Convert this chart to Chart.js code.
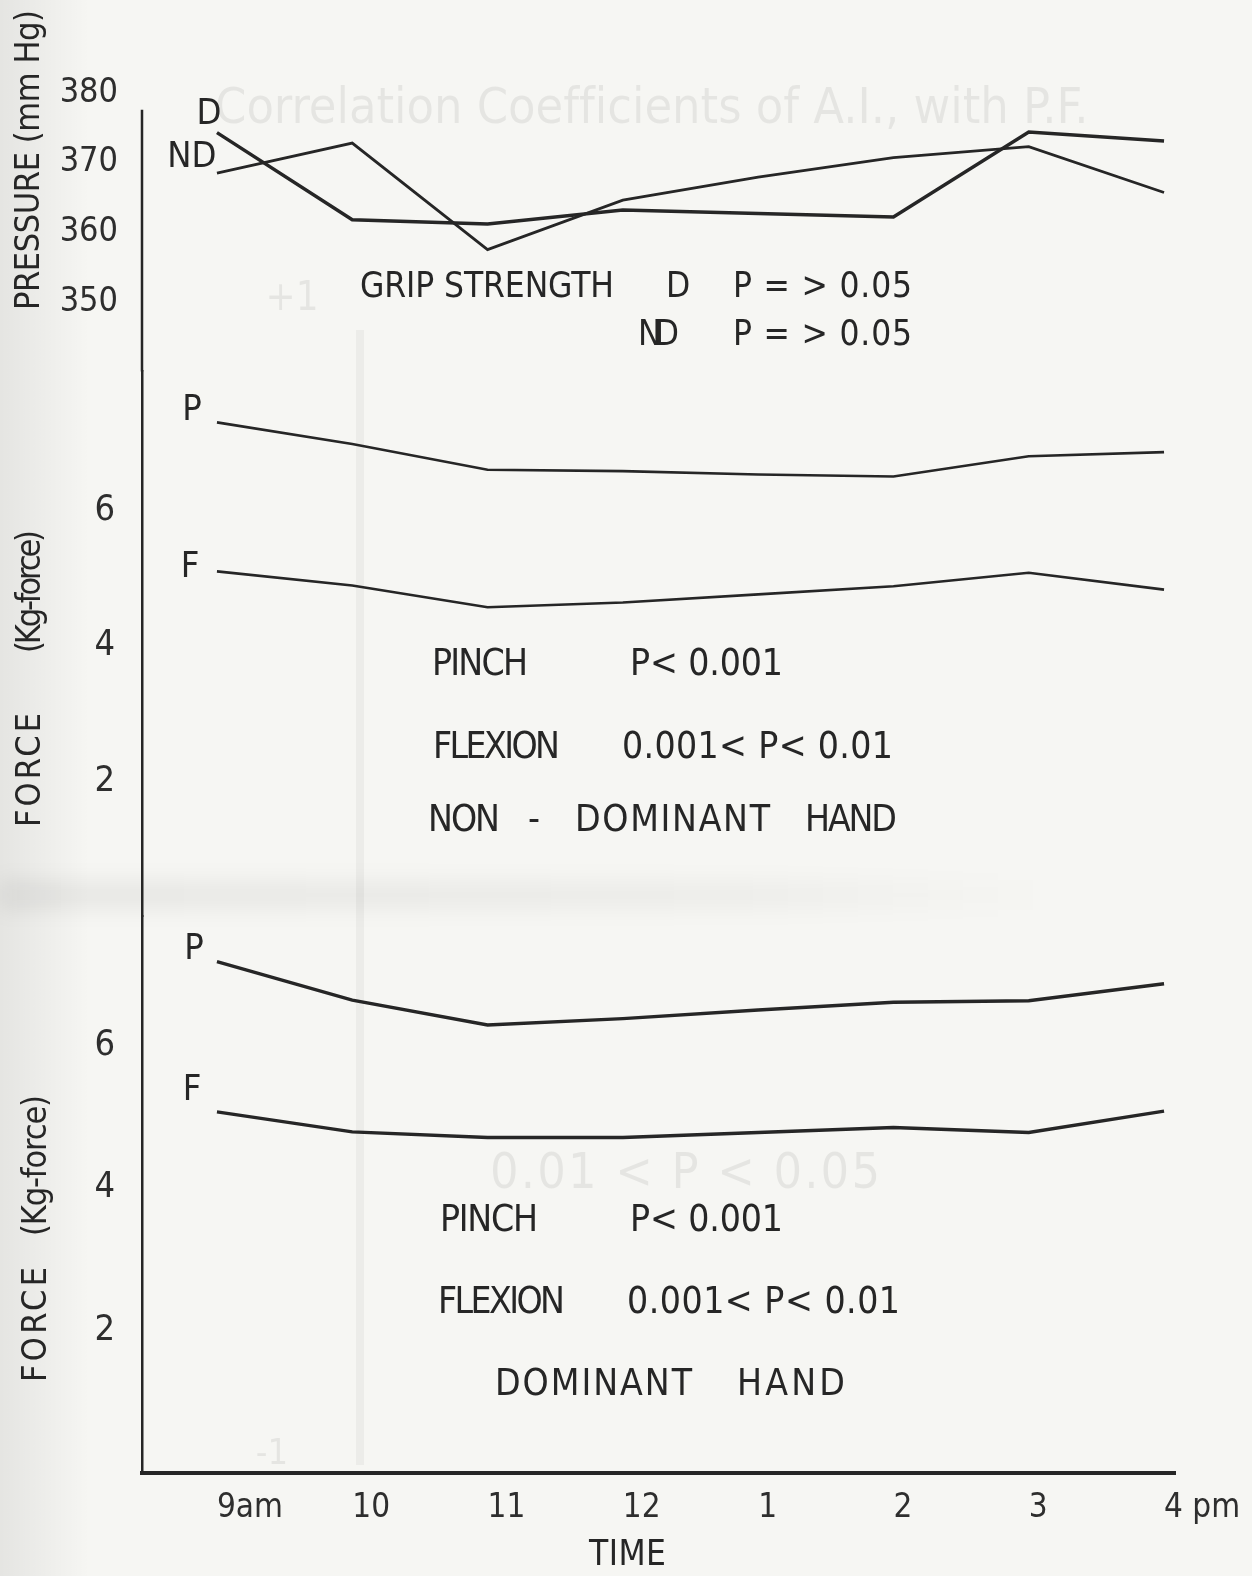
<!DOCTYPE html>
<html lang="en">
<head>
<meta charset="UTF-8" />
<title>Grip, pinch and flexion strength through the day</title>
<script src="https://cdn.jsdelivr.net/npm/chart.js"></script>
<style>
  html, body { margin: 0; padding: 0; background: #f6f6f3; }
  #wrap { width: 1252px; height: 1576px; position: relative; }
</style>
</head>
<body>
<div id="wrap"><canvas id="strengthChart"></canvas></div>
<script>
// time of day
const times = ['9am', '10', '11', '12', '1', '2', '3', '4 pm'];

// grip strength, pressure (mm Hg)
const gripD  = [374.3, 361.8, 361.2, 363.2, 362.7, 362.2, 374.4, 373.1];
const gripND = [368.5, 372.8, 357.5, 364.6, 367.9, 370.7, 372.3, 365.7];

// non-dominant hand, force (Kg-force)
const ndPinch   = [7.30, 6.98, 6.60, 6.58, 6.53, 6.50, 6.80, 6.86];
const ndFlexion = [5.10, 4.89, 4.57, 4.64, 4.76, 4.88, 5.08, 4.83];

// dominant hand, force (Kg-force)
const dPinch   = [7.18, 6.64, 6.29, 6.38, 6.50, 6.61, 6.63, 6.87];
const dFlexion = [5.07, 4.79, 4.71, 4.71, 4.78, 4.85, 4.78, 5.08];

const pressureTicks = [350, 360, 370, 380];
const forceTicks = [2, 4, 6];

const FONT = "'DejaVu Sans Condensed', 'DejaVu Sans', sans-serif";
const INK = '#262626';
Chart.defaults.font.family = FONT;
Chart.defaults.color = INK;

const pts = arr => arr.map((v, i) => ({ x: i, y: v }));

// stretch a string between two x positions
function fitText(ctx, text, x1, x2, y, size) {
  ctx.font = size + 'px ' + FONT;
  ctx.letterSpacing = '0px';
  const w = ctx.measureText(text).width;
  if (text.length > 1) ctx.letterSpacing = ((x2 - x1 - w) / (text.length - 1)) + 'px';
  ctx.textAlign = 'left';
  ctx.textBaseline = 'middle';
  ctx.fillText(text, x1, y);
  ctx.letterSpacing = '0px';
}

function centerText(ctx, text, x, y, size) {
  ctx.font = size + 'px ' + FONT;
  ctx.textAlign = 'center';
  ctx.textBaseline = 'middle';
  ctx.fillText(text, x, y);
}

// [text, left, right, y, size]
const notes = [
  ['GRIP STRENGTH', 360, 614, 288, 35],
  ['D', 666, 685, 288, 35],
  ['P = > 0.05', 733, 912, 288, 35],
  ['ND', 638, 679, 336, 35],
  ['P = > 0.05', 733, 912, 336, 35],

  ['PINCH', 432, 528, 665, 37],
  ['P< 0.001', 630, 783, 665, 37],
  ['FLEXION', 433, 560, 748, 37],
  ['0.001< P< 0.01', 622, 893, 748, 37],
  ['NON', 428, 500, 821, 37],
  ['-', 528, 540, 821, 37],
  ['DOMINANT', 575, 770, 821, 37],
  ['HAND', 805, 897, 821, 37],

  ['PINCH', 440, 538, 1221, 37],
  ['P< 0.001', 630, 783, 1221, 37],
  ['FLEXION', 438, 565, 1303, 37],
  ['0.001< P< 0.01', 627, 900, 1303, 37],
  ['DOMINANT', 495, 692, 1385, 37],
  ['HAND', 737, 845, 1385, 37],

  ['TIME', 589, 666, 1556, 35]
];

// series names next to the first point: [text, datasetIndex, dx, dy]
const seriesTags = [
  ['D', 0, -8, -18],
  ['ND', 1, -25, -15],
  ['P', 2, -25, -12],
  ['F', 3, -27, -4],
  ['P', 4, -23, -12],
  ['F', 5, -25, -21]
];

// rotated axis titles: [text, x, yBottom, yTop]
const yTitles = [
  ['PRESSURE (mm Hg)', 30, 310, 10],
  ['(Kg-force)', 31, 653, 530],
  ['FORCE', 31, 827, 713],
  ['(Kg-force)', 37, 1236, 1095],
  ['FORCE', 37, 1382, 1267]
];

const paperPlugin = {
  id: 'paper',
  beforeDraw(chart) {
    const ctx = chart.ctx;
    const W = chart.width, H = chart.height;
    ctx.save();
    ctx.fillStyle = '#f6f6f3';
    ctx.fillRect(0, 0, W, H);
    // scanner shading
    let g = ctx.createLinearGradient(0, 0, 90, 0);
    g.addColorStop(0, 'rgba(0,0,0,0.07)');
    g.addColorStop(1, 'rgba(0,0,0,0)');
    ctx.fillStyle = g;
    ctx.fillRect(0, 0, 90, H);
    g = ctx.createLinearGradient(0, 0, 1050, 0);
    g.addColorStop(0, 'rgba(0,0,0,0.06)');
    g.addColorStop(0.7, 'rgba(0,0,0,0.035)');
    g.addColorStop(1, 'rgba(0,0,0,0)');
    ctx.fillStyle = g;
    ctx.filter = 'blur(10px)';
    ctx.fillRect(0, 880, 1050, 30);
    ctx.filter = 'none';
    // show-through from the other side of the sheet
    ctx.fillStyle = 'rgba(0,0,0,0.065)';
    fitText(ctx, 'Correlation Coefficients of A.I., with P.F.', 215, 1088, 110, 50);
    fitText(ctx, '0.01 < P < 0.05', 490, 880, 1175, 50);
    centerText(ctx, '+1', 292, 300, 40);
    centerText(ctx, '-1', 272, 1455, 36);
    ctx.strokeStyle = 'rgba(0,0,0,0.04)';
    ctx.lineWidth = 8;
    ctx.beginPath();
    ctx.moveTo(360, 330);
    ctx.lineTo(360, 1465);
    ctx.stroke();
    ctx.restore();
  },
  afterDraw(chart) {
    const ctx = chart.ctx;
    const yTop = chart.scales.yTop;
    ctx.save();
    ctx.fillStyle = INK;
    // left axis line of the pressure panel
    ctx.strokeStyle = INK;
    ctx.lineWidth = 2.5;
    ctx.beginPath();
    ctx.moveTo(chart.chartArea.left, yTop.getPixelForValue(377.6));
    ctx.lineTo(chart.chartArea.left, yTop.bottom);
    ctx.stroke();

    notes.forEach(n => fitText(ctx, n[0], n[1], n[2], n[3], n[4]));

    seriesTags.forEach(t => {
      const p = chart.getDatasetMeta(t[1]).data[0];
      centerText(ctx, t[0], p.x + t[2], p.y + t[3], 36);
    });

    yTitles.forEach(t => {
      ctx.save();
      ctx.translate(t[1], t[2]);
      ctx.rotate(-Math.PI / 2);
      fitText(ctx, t[0], 0, t[2] - t[3], 0, 34);
      ctx.restore();
    });
    ctx.restore();
  }
};

const line = (data, axis, width) => ({
  data: pts(data),
  yAxisID: axis,
  borderColor: INK,
  borderWidth: width,
  pointRadius: 0,
  tension: 0,
  fill: false
});

const yAxis = (min, max, ticks, weight, stackWeight) => ({
  type: 'linear',
  position: 'left',
  stack: 'left',
  stackWeight: stackWeight,
  weight: weight,
  min: min,
  max: max,
  grid: { display: false, drawTicks: false },
  border: { display: true, color: INK, width: 2.5 },
  afterBuildTicks: s => { s.ticks = ticks.map(v => ({ value: v })); },
  afterFit: s => { s.width = 142; },
  ticks: { padding: 27, color: '#2e2e2e', font: { size: 36 } }
});

const yTopAxis = yAxis(340, 382, pressureTicks, 3, 292.7);
yTopAxis.border = { display: false };
yTopAxis.ticks = { padding: 24, color: '#2e2e2e', font: { size: 34 } };

new Chart(document.getElementById('strengthChart'), {
  type: 'line',
  data: {
    datasets: [
      line(gripD, 'yTop', 3.5),
      line(gripND, 'yTop', 2.8),
      line(ndPinch, 'yMid', 2.6),
      line(ndFlexion, 'yMid', 2.6),
      line(dPinch, 'yBot', 3.4),
      line(dFlexion, 'yBot', 3.4)
    ]
  },
  options: {
    responsive: true,
    maintainAspectRatio: false,
    animation: false,
    layout: { padding: { top: 79, right: 77, left: 0, bottom: 0 } },
    plugins: { legend: { display: false }, tooltip: { enabled: false } },
    scales: {
      x: {
        type: 'linear',
        min: -0.554,
        max: 7.081,
        grid: { display: false, drawTicks: false },
        border: { display: true, color: INK, width: 4 },
        afterBuildTicks: s => { s.ticks = times.map((t, i) => ({ value: i })); },
        afterFit: s => { s.height = 103; s.paddingRight = 0; s.paddingLeft = 0; },
        ticks: {
          align: 'start',
          autoSkip: false,
          maxRotation: 0,
          padding: 16,
          color: '#2e2e2e',
          font: { size: 33 },
          callback: v => times[v]
        }
      },
      yBot: yAxis(0, 7.81, forceTicks, 1, 556.5),
      yMid: yAxis(0, 8.05, forceTicks, 2, 545.4),
      yTop: yTopAxis
    }
  },
  plugins: [paperPlugin]
});
</script>
</body>
</html>
